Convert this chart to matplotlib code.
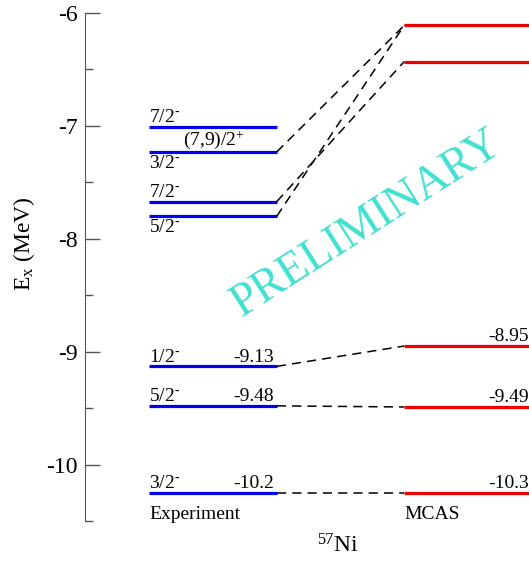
import matplotlib
matplotlib.use("Agg")
import matplotlib.pyplot as plt

plt.rcParams['font.family'] = ['Liberation Serif', 'DejaVu Serif']
plt.rcParams['mathtext.fontset'] = 'custom'
plt.rcParams['mathtext.rm'] = 'Liberation Serif'
plt.rcParams['mathtext.it'] = 'Liberation Serif:italic'
plt.rcParams['axes.unicode_minus'] = False

# experimental levels (MeV) and spin labels
exp_E = [-7.01, -7.23, -7.67, -7.80, -9.13, -9.48, -10.25]
exp_spin_above = ['7/2$^{\\text{-}}$', '(7,9)/2$^{+}$', '7/2$^{\\text{-}}$', '',
                  '1/2$^{\\text{-}}$', '5/2$^{\\text{-}}$', '3/2$^{\\text{-}}$']
exp_spin_below = ['', '3/2$^{\\text{-}}$', '', '5/2$^{\\text{-}}$', '', '', '']
exp_vals = ['', '', '', '', '-9.13', '-9.48', '-10.2']

# MCAS levels
mcas_E = [-6.11, -6.43, -8.95, -9.49, -10.25]
mcas_vals = ['', '', '-8.95', '-9.49', '-10.3']

# connections exp index -> mcas index
links = [(1, 0), (2, 1), (3, 0), (4, 2), (5, 3), (6, 4)]

x_exp = (0.144, 0.432)
x_mcas = (0.719, 1.0)

fig = plt.figure(figsize=(5.29, 5.61), dpi=100)
ax = fig.add_axes([85/529, 40/561, 1 - 85/529, 508/561])
ax.set_xlim(0, 1)
ax.set_ylim(-10.5, -6)

fs = 14
for i, e in enumerate(exp_E):
    ax.plot(x_exp, [e, e], color='#0000ee', lw=2.3, solid_capstyle='butt')
    if exp_spin_above[i]:
        xx = x_exp[0] if i != 1 else 0.22
        ax.annotate(exp_spin_above[i], (xx, e), xytext=(0, 0.5), textcoords='offset points',
                    ha='left', va='bottom', fontsize=fs)
    if exp_spin_below[i]:
        ax.annotate(exp_spin_below[i], (x_exp[0], e), xytext=(0, -2), textcoords='offset points',
                    ha='left', va='top', fontsize=fs)
    if exp_vals[i]:
        ax.annotate(exp_vals[i], (x_exp[1], e), xytext=(-2, 0.5), textcoords='offset points',
                    ha='right', va='bottom', fontsize=fs)

for i, e in enumerate(mcas_E):
    ax.plot(x_mcas, [e, e], color='#ee0000', lw=2.3, solid_capstyle='butt', clip_on=False)
    if mcas_vals[i]:
        ax.annotate(mcas_vals[i], (x_mcas[1], e), xytext=(0, 0.5), textcoords='offset points',
                    ha='right', va='bottom', fontsize=fs)

for a, b in links:
    ax.plot([x_exp[1], x_mcas[0]], [exp_E[a], mcas_E[b]], color='black', lw=1.1,
            dashes=(6, 4))

ax.text(x_exp[0], -10.44, 'Experiment', ha='left', va='center', fontsize=fs)
ax.text(x_mcas[0], -10.44, 'MCAS', ha='left', va='center', fontsize=fs)
fig.text(338/529, 1 - 546/561, '$^{57}$Ni', ha='center', va='center', fontsize=17)

ax.text(0.635, -7.87, 'PRELIMINARY', color='#40e0d0', fontsize=33, rotation=32.5,
        ha='center', va='center')

for s in ['top', 'right', 'bottom']:
    ax.spines[s].set_visible(False)
ax.spines['left'].set_color('#555555')
ax.set_xticks([])
ax.set_yticks([-6, -7, -8, -9, -10])
ax.set_yticks([-6.5, -7.5, -8.5, -9.5, -10.5], minor=True)
ax.tick_params(axis='y', direction='in', length=11, width=1, color='#555555', labelsize=17, pad=5)
ax.tick_params(axis='y', which='minor', direction='in', length=6, width=1, color='#555555')
ax.set_ylabel('E$_{\\mathrm{x}}$ (MeV)', fontsize=17)
ax.yaxis.set_label_coords(-0.108, 0.545)

fig.savefig('out.png', dpi=100)
